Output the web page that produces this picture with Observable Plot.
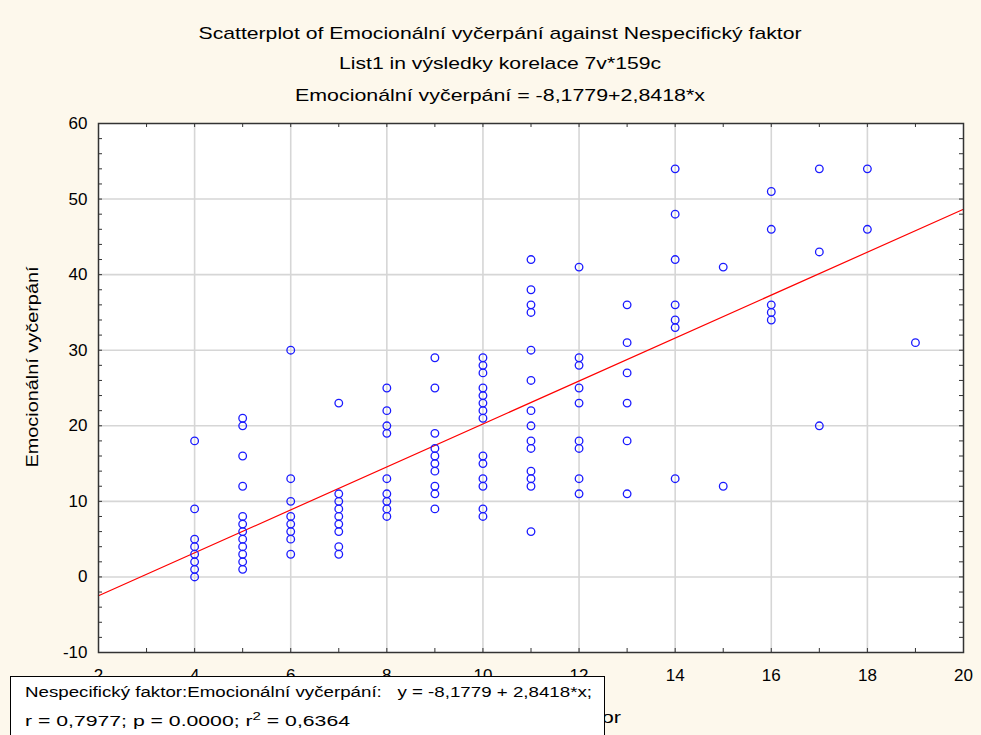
<!DOCTYPE html>
<html><head><meta charset="utf-8">
<script src="https://cdn.jsdelivr.net/npm/d3@7"></script>
<script src="https://cdn.jsdelivr.net/npm/@observablehq/plot@0.6"></script>
<style>
body{margin:0;background:#fdf8ec;}
#chart svg{display:block;}
</style>
</head><body><div id="chart"></div>
<script>
// Nespecifický faktor values (x) and the Emocionální vyčerpání values observed at each
const xValues = [4, 5, 6, 7, 8, 9, 10, 11, 12, 13, 14, 15, 16, 17, 18, 19];
const yColumns = [
  [18, 9, 5, 4, 3, 2, 1, 0],
  [21, 20, 16, 12, 8, 7, 6, 5, 4, 3, 2, 1],
  [30, 13, 10, 8, 7, 6, 5, 3],
  [23, 11, 10, 9, 8, 7, 6, 4, 3],
  [25, 22, 20, 19, 13, 11, 10, 9, 8],
  [29, 25, 19, 17, 16, 15, 14, 12, 11, 9],
  [29, 28, 27, 25, 24, 23, 22, 21, 16, 15, 13, 12, 9, 8],
  [42, 38, 36, 35, 30, 26, 22, 20, 18, 17, 14, 13, 12, 6],
  [41, 29, 28, 25, 23, 18, 17, 13, 11],
  [36, 31, 27, 23, 18, 11],
  [54, 48, 42, 36, 34, 33, 13],
  [41, 12],
  [51, 46, 36, 35, 34],
  [54, 43, 20],
  [54, 46],
  [31]
];
const intercept = -8.1779;
const slope = 2.8418;
const xDomain = [2, 20];
const yDomain = [-10, 60];
const xTickLabels = [2, 4, 6, 8, 10, 12, 14, 16, 18, 20];
const yTickLabels = [-10, 0, 10, 20, 30, 40, 50, 60];
const xMinorTicks = d3.range(2, 21, 1);
const yMinorTicks = d3.range(-10, 61, 2);

const titleLines = [
  "Scatterplot of Emocionální vyčerpání against Nespecifický faktor",
  "List1 in výsledky korelace 7v*159c",
  "Emocionální vyčerpání = -8,1779+2,8418*x"
];
const xLabel = "Nespecifický faktor";
const yLabel = "Emocionální vyčerpání";
const statsLine1 = "Nespecifický faktor:Emocionální vyčerpání:   y = -8,1779 + 2,8418*x;";

const points = xValues.flatMap((x, i) => yColumns[i].map(y => ({x, y})));
const fit = xDomain.map(x => ({x, y: intercept + slope * x}));

const bg = "#fdf8ec";
const sans = "'Liberation Sans', Arial, sans-serif";
const W = 981, H = 735, mL = 98, mR = 18, mT = 123, mB = 83;
const plotW = W - mL - mR, plotH = H - mT - mB;
const tickLen = 4;
const plain = d => String(d);

const plot = Plot.plot({
  width: W, height: H,
  marginLeft: mL, marginRight: mR, marginTop: mT, marginBottom: mB,
  x: {domain: xDomain},
  y: {domain: yDomain},
  style: {background: bg, fontFamily: sans, fontSize: "17px", color: "#000"},
  marks: [
    Plot.frame({fill: "white", stroke: null}),
    Plot.gridX(xTickLabels.slice(1, -1), {stroke: "#d6d6d6", strokeOpacity: 1, strokeWidth: 1.6}),
    Plot.gridY(yTickLabels.slice(1, -1), {stroke: "#d6d6d6", strokeOpacity: 1, strokeWidth: 1.6}),
    Plot.axisX(xTickLabels, {anchor: "bottom", tickSize: 0, tickPadding: 16, fontSize: 17, label: null, tickFormat: plain}),
    Plot.axisY(yTickLabels, {anchor: "left", tickSize: 0, tickPadding: 11, fontSize: 17, label: null, tickFormat: plain}),
    // inward minor ticks on all four sides
    Plot.tickX(xMinorTicks, {x: d => d, stroke: "#333", insetTop: plotH - tickLen}),
    Plot.tickX(xMinorTicks, {x: d => d, stroke: "#333", insetBottom: plotH - tickLen}),
    Plot.tickY(yMinorTicks, {y: d => d, stroke: "#333", insetRight: plotW - tickLen}),
    Plot.tickY(yMinorTicks, {y: d => d, stroke: "#333", insetLeft: plotW - tickLen}),
    Plot.line(fit, {x: "x", y: "y", stroke: "#ff0000", strokeWidth: 1.2}),
    Plot.dot(points, {x: "x", y: "y", r: 3.8, stroke: "#1a1aff", strokeWidth: 1.3, fill: "none"}),
    Plot.frame({stroke: "#333", strokeWidth: 1.5})
  ]
});

const svg = d3.select(plot);
// titles
const titleY = [39, 69, 101];
const titleW = [603, 322, 410];
titleLines.forEach((t, i) => {
  svg.append("text").attr("x", 500).attr("y", titleY[i])
    .attr("text-anchor", "middle").attr("font-family", sans).attr("font-size", 17)
    .attr("textLength", titleW[i]).attr("lengthAdjust", "spacingAndGlyphs")
    .attr("fill", "#000").text(t);
});
// y label
svg.append("text").attr("transform", "translate(38,367) rotate(-90)")
  .attr("text-anchor", "middle").attr("font-family", sans).attr("font-size", 16)
  .attr("textLength", 201).attr("lengthAdjust", "spacingAndGlyphs")
  .attr("fill", "#000").text(yLabel);
// x label (partly hidden behind the stats box)
svg.append("text").attr("x", 530).attr("y", 723)
  .attr("text-anchor", "middle").attr("font-family", sans).attr("font-size", 16)
  .attr("textLength", 182).attr("lengthAdjust", "spacingAndGlyphs")
  .attr("fill", "#000").text(xLabel);
// stats box
svg.append("rect").attr("x", 10.5).attr("y", 676.5).attr("width", 594).attr("height", 70)
  .attr("fill", "white").attr("stroke", "#000").attr("stroke-width", 1);
svg.append("text").attr("x", 25).attr("y", 697).attr("text-anchor", "start")
  .attr("font-family", sans).attr("font-size", 15.5)
  .attr("textLength", 567).attr("lengthAdjust", "spacingAndGlyphs")
  .attr("fill", "#000").style("white-space", "pre")
  .text(statsLine1);
const t2 = svg.append("text").attr("x", 25).attr("y", 726).attr("text-anchor", "start")
  .attr("font-family", sans).attr("font-size", 15.5).attr("fill", "#000")
  .attr("textLength", 325).attr("lengthAdjust", "spacingAndGlyphs");
t2.append("tspan").text("r = 0,7977; p = 0.0000; r");
t2.append("tspan").attr("dy", -6).attr("font-size", 11).text("2");
t2.append("tspan").attr("dy", 6).text(" = 0,6364");

document.getElementById("chart").appendChild(plot);
</script>
</body></html>
